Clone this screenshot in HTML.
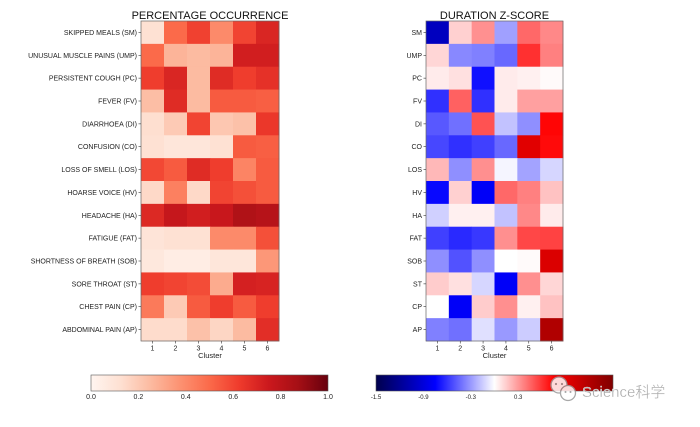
<!DOCTYPE html>
<html><head><meta charset="utf-8">
<style>
html,body{margin:0;padding:0;background:#fff;}
body{width:700px;height:422px;overflow:hidden;}
svg text{font-family:"Liberation Sans","Noto Sans CJK SC",sans-serif;}
</style></head>
<body>
<svg id="s" width="700" height="422" viewBox="0 0 700 422" xmlns="http://www.w3.org/2000/svg">
<defs>
<linearGradient id="gReds" x1="0" x2="1" y1="0" y2="0">
<stop offset="0" stop-color="#fff5f0"/><stop offset="0.125" stop-color="#fee0d2"/><stop offset="0.25" stop-color="#fcbba1"/><stop offset="0.375" stop-color="#fc9272"/><stop offset="0.5" stop-color="#fb6a4a"/><stop offset="0.625" stop-color="#ef3b2c"/><stop offset="0.75" stop-color="#cb181d"/><stop offset="0.875" stop-color="#a50f15"/><stop offset="1" stop-color="#67000d"/>
</linearGradient>
<linearGradient id="gSeis" x1="0" x2="1" y1="0" y2="0">
<stop offset="0" stop-color="#00004c"/><stop offset="0.25" stop-color="#0000ff"/><stop offset="0.5" stop-color="#ffffff"/><stop offset="0.75" stop-color="#ff0000"/><stop offset="1" stop-color="#800000"/>
</linearGradient>
</defs>
<g id="hm"></g>
<text x="210" y="19" font-size="11" text-anchor="middle" fill="#111">PERCENTAGE OCCURRENCE</text>
<text x="494.5" y="19" font-size="11" text-anchor="middle" fill="#111">DURATION Z-SCORE</text>
<text x="210" y="358" font-size="7.5" text-anchor="middle" fill="#222">Cluster</text>
<text x="494.5" y="358" font-size="7.5" text-anchor="middle" fill="#222">Cluster</text>
<rect x="91" y="375" width="237" height="16" fill="url(#gReds)" stroke="#555" stroke-width="0.6"/>
<rect x="376" y="375" width="237" height="16" fill="url(#gSeis)" stroke="#555" stroke-width="0.6"/>
<g font-size="7" fill="#222" text-anchor="middle">
<text x="91" y="399">0.0</text><text x="138.4" y="399">0.2</text><text x="185.8" y="399">0.4</text><text x="233.2" y="399">0.6</text><text x="280.6" y="399">0.8</text><text x="328" y="399">1.0</text>
<text x="376" y="399" font-size="6">-1.5</text><text x="423.4" y="399" font-size="6">-0.9</text><text x="470.8" y="399" font-size="6">-0.3</text><text x="518.2" y="399" font-size="6">0.3</text>
</g>
<g opacity="0.85">
<circle cx="559" cy="385" r="8" fill="#fff" stroke="#9a9a9a" stroke-width="1.3"/>
<circle cx="568" cy="393" r="7.5" fill="#fff" stroke="#9a9a9a" stroke-width="1.3"/>
<circle cx="556" cy="384" r="1.1" fill="#9a9a9a"/><circle cx="562" cy="384" r="1.1" fill="#9a9a9a"/>
<circle cx="565.5" cy="392" r="1" fill="#9a9a9a"/><circle cx="570.5" cy="392" r="1" fill="#9a9a9a"/>
</g>
<text x="582" y="397" font-size="15" fill="#a8a8a8" stroke="#fff" stroke-width="0.3">Science科学</text>
</svg>
<script>
(function(){
var NS="http://www.w3.org/2000/svg";
var g=document.getElementById('hm');
function el(t,a,txt){var e=document.createElementNS(NS,t);for(var k in a)e.setAttribute(k,a[k]);if(txt!=null)e.textContent=txt;g.appendChild(e);return e;}
function lerp(stops,t){t=Math.max(0,Math.min(1,t));var n=stops.length-1;var p=t*n;var i=Math.min(n-1,Math.floor(p));var f=p-i;var a=stops[i],b=stops[i+1];
return 'rgb('+[0,1,2].map(function(j){return Math.round(a[j]+(b[j]-a[j])*f);}).join(',')+')';}
function hx(h){return [parseInt(h.substr(1,2),16),parseInt(h.substr(3,2),16),parseInt(h.substr(5,2),16)];}
var reds=['#fff5f0','#fee0d2','#fcbba1','#fc9272','#fb6a4a','#ef3b2c','#cb181d','#a50f15','#67000d'].map(hx);
var seis=[[0,0,76],[0,0,255],[255,255,255],[255,0,0],[128,0,0]];
var L=[[0.12,0.5,0.61,0.4,0.6,0.7],
[0.5,0.27,0.25,0.27,0.73,0.73],
[0.62,0.7,0.25,0.68,0.62,0.66],
[0.24,0.68,0.25,0.54,0.54,0.53],
[0.13,0.2,0.6,0.21,0.23,0.64],
[0.12,0.09,0.09,0.12,0.54,0.53],
[0.59,0.54,0.68,0.62,0.42,0.54],
[0.15,0.43,0.15,0.6,0.57,0.54],
[0.69,0.77,0.73,0.76,0.84,0.82],
[0.1,0.12,0.12,0.4,0.4,0.57],
[0.08,0.05,0.05,0.09,0.09,0.36],
[0.62,0.6,0.58,0.3,0.72,0.71],
[0.45,0.2,0.54,0.62,0.54,0.62],
[0.14,0.14,0.23,0.16,0.25,0.67]];
var R=[[0.16,0.546,0.609,0.407,0.648,0.617],
[0.54,0.383,0.375,0.352,0.703,0.625],
[0.52,0.53,0.266,0.52,0.515,0.505],
[0.297,0.655,0.297,0.52,0.593,0.593],
[0.336,0.36,0.67,0.44,0.39,0.745],
[0.32,0.297,0.313,0.352,0.81,0.74],
[0.57,0.39,0.61,0.49,0.41,0.46],
[0.258,0.546,0.24,0.648,0.625,0.56],
[0.454,0.515,0.515,0.44,0.617,0.52],
[0.313,0.29,0.305,0.61,0.68,0.685],
[0.39,0.33,0.39,0.5,0.505,0.82],
[0.55,0.53,0.46,0.24,0.61,0.54],
[0.5,0.24,0.55,0.61,0.515,0.56],
[0.375,0.36,0.47,0.40,0.45,0.905]];
var LN=['SKIPPED MEALS (SM)','UNUSUAL MUSCLE PAINS (UMP)','PERSISTENT COUGH (PC)','FEVER (FV)','DIARRHOEA (DI)','CONFUSION (CO)','LOSS OF SMELL (LOS)','HOARSE VOICE (HV)','HEADACHE (HA)','FATIGUE (FAT)','SHORTNESS OF BREATH (SOB)','SORE THROAT (ST)','CHEST PAIN (CP)','ABDOMINAL PAIN (AP)'];
var SN=['SM','UMP','PC','FV','DI','CO','LOS','HV','HA','FAT','SOB','ST','CP','AP'];
function heat(x0,x1,y0,y1,data,stops,labels){
var cw=(x1-x0)/6,rh=(y1-y0)/14;
for(var r=0;r<14;r++)for(var c=0;c<6;c++){
el('rect',{x:(x0+c*cw).toFixed(2),y:(y0+r*rh).toFixed(2),width:(cw+0.4).toFixed(2),height:(rh+0.4).toFixed(2),fill:lerp(stops,data[r][c])});}
el('rect',{x:x0,y:y0,width:x1-x0,height:y1-y0,fill:'none',stroke:'#666','stroke-width':0.7});
for(var r=0;r<14;r++){var cy=y0+(r+0.5)*rh;
el('line',{x1:x0-2.5,x2:x0,y1:cy,y2:cy,stroke:'#333','stroke-width':0.6});
el('text',{x:x0-4,y:cy+2.5,'font-size':7,'text-anchor':'end',fill:'#222'},labels[r]);}
for(var c=0;c<6;c++){var cx=x0+(c+0.5)*cw;
el('line',{x1:cx,x2:cx,y1:y1,y2:y1+2.5,stroke:'#333','stroke-width':0.6});
el('text',{x:cx,y:y1+9.5,'font-size':7,'text-anchor':'middle',fill:'#222'},String(c+1));}
}
heat(141,279,21,341,L,reds,LN);
heat(426,563,21,341,R,seis,SN);
})();
</script>
</body></html>
